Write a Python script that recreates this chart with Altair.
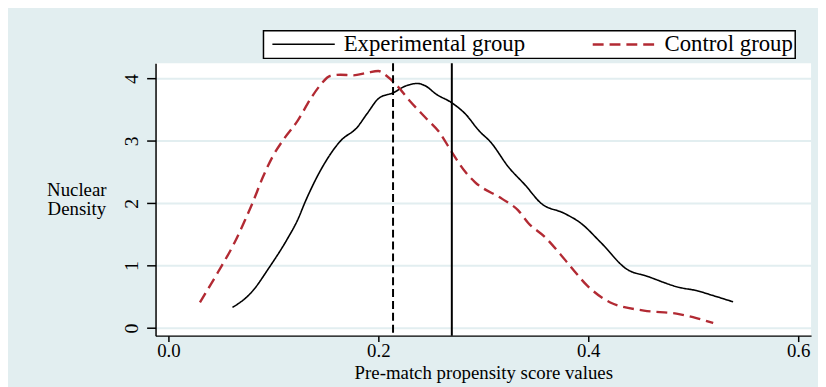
import altair as alt
import pandas as pd

# Experimental group kernel density (solid black)
exp_x = [0.061, 0.079, 0.096, 0.113, 0.123, 0.131, 0.145, 0.164, 0.180, 0.189,
         0.201, 0.214, 0.226, 0.237, 0.245, 0.255, 0.270, 0.283, 0.296, 0.307,
         0.324, 0.340, 0.355, 0.377, 0.393, 0.412, 0.437, 0.456, 0.487, 0.503,
         0.519, 0.538]
exp_y = [0.33, 0.57, 0.97, 1.42, 1.73, 2.05, 2.53, 3.00, 3.22, 3.43,
         3.69, 3.77, 3.88, 3.92, 3.88, 3.75, 3.61, 3.43, 3.16, 2.98,
         2.58, 2.29, 2.00, 1.84, 1.68, 1.37, 0.94, 0.83, 0.65, 0.60,
         0.52, 0.42]

# Control group kernel density (dashed red)
ctl_x = [0.030, 0.047, 0.063, 0.073, 0.080, 0.090, 0.099, 0.110, 0.123, 0.136,
         0.145, 0.154, 0.164, 0.176, 0.189, 0.200, 0.208, 0.217, 0.230, 0.245,
         0.258, 0.270, 0.283, 0.292, 0.318, 0.333, 0.343, 0.358, 0.380, 0.399,
         0.421, 0.453, 0.484, 0.503, 0.519]
ctl_y = [0.41, 0.89, 1.37, 1.73, 2.00, 2.42, 2.74, 3.03, 3.32, 3.69,
         3.90, 4.04, 4.06, 4.05, 4.09, 4.12, 4.04, 3.90, 3.64, 3.37,
         3.14, 2.82, 2.50, 2.34, 2.07, 1.89, 1.68, 1.47, 1.05, 0.68,
         0.41, 0.28, 0.23, 0.16, 0.08]

groups = ["Experimental group", "Control group"]
colors = ["#000000", "#b22a33"]
dashes = [[1, 0], [11, 6]]
widths = [1.6, 2.4]

mean_ctl = 0.214
mean_exp = 0.270

x_ticks = [0.0, 0.2, 0.4, 0.6]
y_ticks = [0, 1, 2, 3, 4]

df = pd.concat([
    pd.DataFrame({"x": exp_x, "y": exp_y, "group": groups[0]}),
    pd.DataFrame({"x": ctl_x, "y": ctl_y, "group": groups[1]}),
])

FONT = "Liberation Serif"
BG = "#e2eef0"

xscale = alt.Scale(domain=[-0.0123, 0.6123], nice=False, zero=False)
yscale = alt.Scale(domain=[-0.122, 4.243], nice=False, zero=False)

xaxis = alt.Axis(values=x_ticks, format=".1f", grid=False, labelFlush=False,
                 domainColor="black", domainWidth=1.5, tickColor="black",
                 tickWidth=1.5, tickSize=6, labelFont=FONT, labelFontSize=19,
                 labelColor="black", labelPadding=0,
                 title="Pre-match propensity score values", titleFont=FONT,
                 titleFontSize=19, titleFontWeight="normal", titleColor="black",
                 titleBaseline="alphabetic", titleY=43)

yaxis = alt.Axis(values=y_ticks, format="d", grid=True, gridColor=BG, gridWidth=2,
                 domainColor="black", domainWidth=1.5, tickColor="black",
                 tickWidth=1.5, tickSize=9, labelFont=FONT, labelFontSize=20,
                 labelColor="black", labelAngle=270, labelAlign="center",
                 labelBaseline="bottom", labelPadding=5,
                 title=["Nuclear", "Density"], titleAngle=0, titleAlign="center",
                 titleBaseline="middle", titleX=-80, titleY=127, titleFont=FONT,
                 titleFontSize=19, titleFontWeight="normal", titleColor="black",
                 titleLineHeight=20)

legend = alt.Legend(orient="none", legendX=109, legendY=-33,
                    direction="horizontal", title=None,
                    symbolType="M-3,0H3", symbolSize=441, symbolOffset=27,
                    symbolStrokeWidth=2, labelFont=FONT,
                    labelFontSize=23, labelColor="black", labelLimit=0,
                    labelOffset=29, columnPadding=60,
                    padding=2, strokeColor="black",
                    fillColor="white")

lines = alt.Chart(df).mark_line(interpolate="monotone").encode(
    x=alt.X("x:Q", scale=xscale, axis=xaxis),
    y=alt.Y("y:Q", scale=yscale, axis=yaxis),
    color=alt.Color("group:N", scale=alt.Scale(domain=groups, range=colors),
                    legend=legend),
    strokeDash=alt.StrokeDash("group:N", scale=alt.Scale(domain=groups, range=dashes),
                              legend=None),
    strokeWidth=alt.StrokeWidth("group:N", scale=alt.Scale(domain=groups, range=widths),
                                legend=None),
    detail="group:N",
)

rule_ctl = alt.Chart(pd.DataFrame({"x": [mean_ctl]})).mark_rule(
    color="black", strokeWidth=2, strokeDash=[8, 4]).encode(x=alt.X("x:Q", scale=xscale))
rule_exp = alt.Chart(pd.DataFrame({"x": [mean_exp]})).mark_rule(
    color="black", strokeWidth=2).encode(x=alt.X("x:Q", scale=xscale))

chart = alt.layer(lines, rule_ctl, rule_exp).properties(
    width=662, height=275,
    background=BG,
    padding={"left": 149, "top": 54, "right": 7, "bottom": 50},
    autosize=alt.AutoSizeParams(type="none"),
).configure_view(fill="white", strokeWidth=0).configure_legend(strokeWidth=1.5)

chart.save("out.html", embed_options={"renderer": "svg", "actions": False})
